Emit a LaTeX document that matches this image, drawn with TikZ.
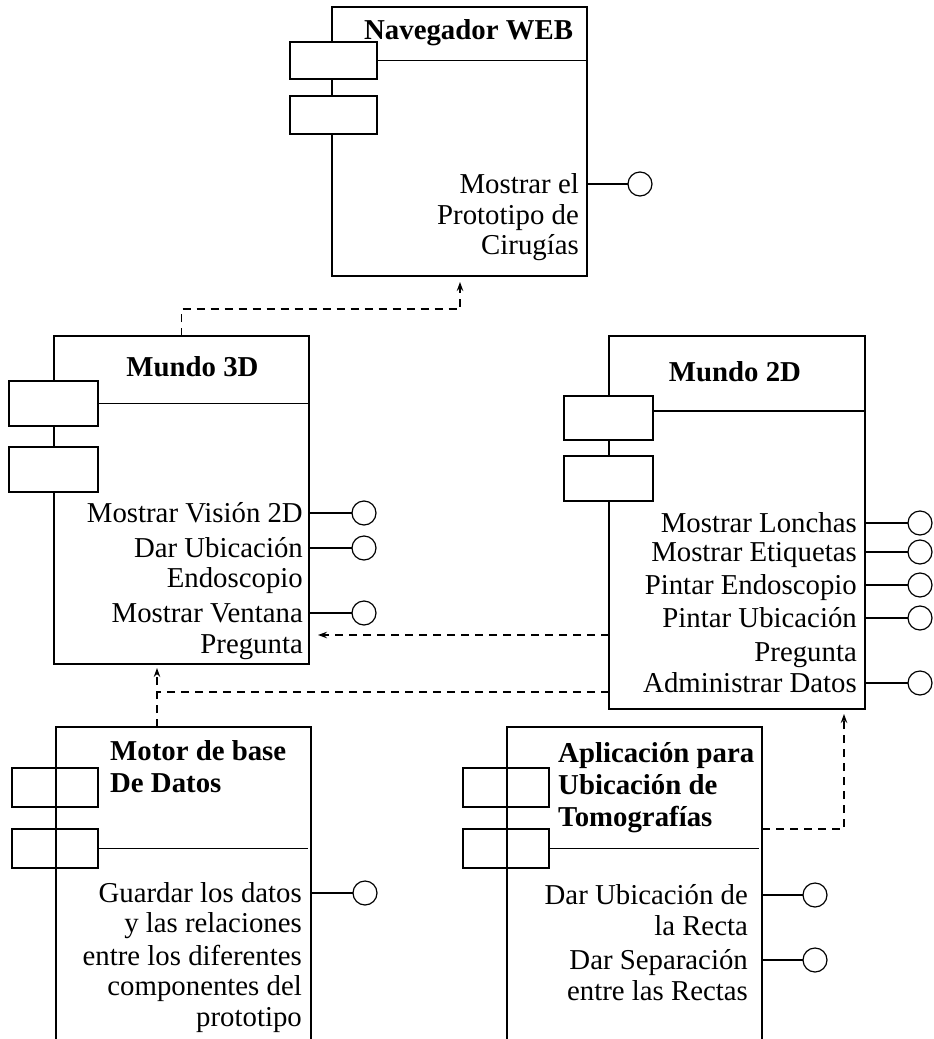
\documentclass[tikz,border=0pt]{standalone}
\usepackage{fontspec}
\setmainfont{Liberation Serif}
\usetikzlibrary{arrows.meta}
\tikzset{
  box/.style={draw, line width=1.2pt, rectangle, inner sep=0pt, outer sep=0pt},
  port/.style={draw, line width=1.2pt, rectangle, inner sep=0pt, outer sep=0pt},
  iface/.style={draw, circle, line width=1.2pt, minimum size=24pt, inner sep=0pt, outer sep=0pt, fill=white},
  lbl/.style={anchor=base east, inner sep=0pt, font=\fontsize{28.8}{32}\selectfont},
  ttl/.style={anchor=base west, inner sep=0pt, font=\fontsize{28.8}{32}\selectfont\bfseries},
  ln/.style={line width=1.2pt},
  dep/.style={line width=1.1pt, dash pattern=on 8pt off 6pt, -{Stealth[length=9pt,width=6.5pt]}},
  depl/.style={line width=1.1pt, dash pattern=on 8pt off 6pt}
}
\begin{document}
\begin{tikzpicture}[x=1pt,y=-1pt]
\useasboundingbox (0,0) rectangle (934,1039);
\clip (0,0) rectangle (934,1039);

% ---------- Navegador WEB ----------
\node[box, minimum width=255pt, minimum height=269pt] (nav) at (459.5,141.5) {};
\node[port, fill=white, minimum width=87pt, minimum height=37pt] (navp1) at (333.5,60.5) {};
\node[port, fill=white, minimum width=87pt, minimum height=38pt] (navp2) at (333.5,115) {};
\draw[ln] (navp1.east) -- (navp1.east -| nav.east);
\node[ttl] (navt) at (364,39.5) {Navegador WEB};
\node[lbl] (navl1) at (579,193.5) {Mostrar el};
\node[lbl] (navl2) at (579,224) {Prototipo de};
\node[lbl] (navl3) at (579,254.5) {Cirugías};
\node[iface] (navi1) at (640,184) {};
\draw[ln] (navi1.west) -- (navi1.west -| nav.east);

% ---------- Mundo 3D ----------
\node[box, minimum width=255pt, minimum height=328pt] (m3d) at (181.5,500) {};
\node[port, fill=white, minimum width=89pt, minimum height=45pt] (m3dp1) at (53.5,403.5) {};
\node[port, fill=white, minimum width=89pt, minimum height=45pt] (m3dp2) at (53.5,469.5) {};
\draw[ln] (m3dp1.east) -- (m3dp1.east -| m3d.east);
\node[ttl, anchor=base] (m3dt) at (192.5,376) {Mundo 3D};
\node[lbl] (m3dl1) at (303,522.5) {Mostrar Visión 2D};
\node[lbl] (m3dl2) at (303,557.5) {Dar Ubicación};
\node[lbl] (m3dl3) at (303,587.5) {Endoscopio};
\node[lbl] (m3dl4) at (303,622.5) {Mostrar Ventana};
\node[lbl] (m3dl5) at (303,653) {Pregunta};
\node[iface] (m3di1) at (364,513) {};
\node[iface] (m3di2) at (364,548) {};
\node[iface] (m3di3) at (364,613) {};
\foreach \i in {1,2,3} \draw[ln] (m3di\i.west) -- (m3di\i.west -| m3d.east);

% ---------- Mundo 2D ----------
\node[box, minimum width=256pt, minimum height=373pt] (m2d) at (737,522.5) {};
\node[port, fill=white, minimum width=89pt, minimum height=44pt] (m2dp1) at (608.5,418) {};
\node[port, fill=white, minimum width=89pt, minimum height=45pt] (m2dp2) at (608.5,478.5) {};
\coordinate (m2dsep) at (653,411);
\draw[ln] (m2dsep) -- (m2dsep -| m2d.east);
\node[ttl, anchor=base] (m2dt) at (735,381) {Mundo 2D};
\node[lbl] (m2dl1) at (857,532.5) {Mostrar Lonchas};
\node[lbl] (m2dl2) at (857,561.5) {Mostrar Etiquetas};
\node[lbl] (m2dl3) at (857,594.5) {Pintar Endoscopio};
\node[lbl] (m2dl4) at (857,627.5) {Pintar Ubicación};
\node[lbl] (m2dl5) at (857,661.5) {Pregunta};
\node[lbl] (m2dl6) at (857,692.5) {Administrar Datos};
\node[iface] (m2di1) at (920,523) {};
\node[iface] (m2di2) at (920,552) {};
\node[iface] (m2di3) at (920,585) {};
\node[iface] (m2di4) at (920,618) {};
\node[iface] (m2di5) at (920,683) {};
\foreach \i in {1,...,5} \draw[ln] (m2di\i.west) -- (m2di\i.west -| m2d.east);

% ---------- Motor de base De Datos ----------
\node[box, minimum width=255pt, minimum height=373pt] (mot) at (183.5,913.5) {};
\node[port, minimum width=86pt, minimum height=39pt] (motp1) at (55,787.5) {};
\node[port, minimum width=86pt, minimum height=39pt] (motp2) at (55,848.5) {};
\draw[ln, shorten >=3pt] (motp2.east) -- (motp2.east -| mot.east);
\node[ttl] (mott1) at (110,760) {Motor de base};
\node[ttl] (mott2) at (110,792) {De Datos};
\node[lbl] (motl1) at (302,902) {Guardar los datos};
\node[lbl] (motl2) at (302,932) {y las relaciones};
\node[lbl] (motl3) at (302,965) {entre los diferentes};
\node[lbl] (motl4) at (302,995) {componentes del};
\node[lbl] (motl5) at (302,1026) {prototipo};
\node[iface] (moti1) at (365,893) {};
\draw[ln] (moti1.west) -- (moti1.west -| mot.east);

% ---------- Aplicación para Ubicación de Tomografías ----------
\node[box, minimum width=255pt, minimum height=373pt] (apl) at (634.5,913.5) {};
\node[port, minimum width=86pt, minimum height=39pt] (aplp1) at (506,787.5) {};
\node[port, minimum width=86pt, minimum height=39pt] (aplp2) at (506,848.5) {};
\draw[ln, shorten >=3.5pt] (aplp2.east) -- (aplp2.east -| apl.east);
\node[ttl] (aplt1) at (558,762) {Aplicación para};
\node[ttl] (aplt2) at (558,794) {Ubicación de};
\node[ttl] (aplt3) at (558,826) {Tomografías};
\node[lbl] (apll1) at (748,904.5) {Dar Ubicación de};
\node[lbl] (apll2) at (748,935.5) {la Recta};
\node[lbl] (apll3) at (748,969.5) {Dar Separación};
\node[lbl] (apll4) at (748,1000.5) {entre las Rectas};
\node[iface] (apli1) at (815,895) {};
\node[iface] (apli2) at (815,960) {};
\foreach \i in {1,2} \draw[ln] (apli\i.west) -- (apli\i.west -| apl.east);

% ---------- Dependencies ----------
\coordinate (c1) at (460,309);
\draw[dep, shorten >=6pt] (m3d.north) |- (c1) -- (c1 |- nav.south);

\coordinate (c2) at (600,635);
\draw[dep, shorten >=9pt] (c2 -| m2d.west) -- (c2 -| m3d.east);

\coordinate (c3) at (157,692);
\draw[depl] (c3 -| m2d.west) -- (c3);
\draw[dep, shorten >=4pt] (c3 |- mot.north) -- (c3 |- m3d.south);

\coordinate (c4) at (844,829);
\draw[dep, shorten >=5pt] (c4 -| apl.east) -- (c4) -- (c4 |- m2d.south);
\end{tikzpicture}
\end{document}
